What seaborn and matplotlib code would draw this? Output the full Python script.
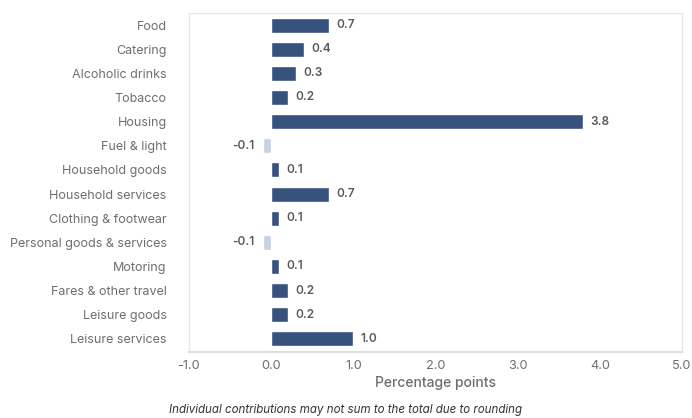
import matplotlib
matplotlib.use("Agg")
import matplotlib.pyplot as plt
import seaborn as sns
import pandas as pd

categories = [
    "Food", "Catering", "Alcoholic drinks", "Tobacco", "Housing",
    "Fuel & light", "Household goods", "Household services",
    "Clothing & footwear", "Personal goods & services", "Motoring",
    "Fares & other travel", "Leisure goods", "Leisure services",
]
contributions = [0.7, 0.4, 0.3, 0.2, 3.8, -0.1, 0.1, 0.7, 0.1, -0.1, 0.1, 0.2, 0.2, 1.0]
x_ticks = [-1.0, 0.0, 1.0, 2.0, 3.0, 4.0, 5.0]

POS_COLOR = "#2C4F8A"
NEG_COLOR = "#C3D1E6"
TEXT_GREY = "#6E6E6E"
FRAME_GREY = "#E8E8E8"

df = pd.DataFrame({"category": categories, "value": contributions})
df["sign"] = ["neg" if v < 0 else "pos" for v in df["value"]]

sns.set_theme(style="white")
plt.rcParams["font.family"] = ["Inter", "DejaVu Sans"]

fig = plt.figure(figsize=(6.92, 4.18), dpi=100)
ax = fig.add_axes([0.273, 0.158, 0.7125, 0.811])

sns.barplot(
    data=df, x="value", y="category", hue="sign",
    palette={"pos": POS_COLOR, "neg": NEG_COLOR},
    orient="h", width=0.62, dodge=False, legend=False, ax=ax,
)

ax.set_xlim(-1.0, 5.0)
ax.set_ylim(13.54, -0.5)
ax.set_xticks(x_ticks)
ax.set_xticklabels([f"{t:.1f}" for t in x_ticks], color=TEXT_GREY, fontsize=9.2)
ax.set_ylabel("")
ax.set_xlabel("Percentage points", color=TEXT_GREY, fontsize=10, labelpad=3,
              fontweight="medium")
ax.tick_params(axis="y", length=0, pad=16, labelsize=9, labelcolor=TEXT_GREY)
ax.tick_params(axis="x", length=3, direction="inout", color="#D0D0D0", width=1, pad=4)

for side in ["top", "left", "right"]:
    ax.spines[side].set_color(FRAME_GREY)
    ax.spines[side].set_linewidth(1.0)
ax.spines["bottom"].set_color("#D8D8D8")
ax.spines["bottom"].set_linewidth(1.2)

# value labels beside each bar
for i, v in enumerate(contributions):
    if v >= 0:
        ax.text(v + 0.09, i, f"{v:.1f}", va="center", ha="left",
                fontsize=8.5, color="#5A5A5A", fontweight="semibold")
    else:
        ax.text(v - 0.1, i, f"{v:.1f}", va="center", ha="right",
                fontsize=8.5, color="#5A5A5A", fontweight="semibold")

fig.text(0.5, 0.019, "Individual contributions may not sum to the total due to rounding",
         ha="center", va="center", fontsize=8.3, style="italic", color="#333333")

fig.savefig("out.png", dpi=100, facecolor="white")
